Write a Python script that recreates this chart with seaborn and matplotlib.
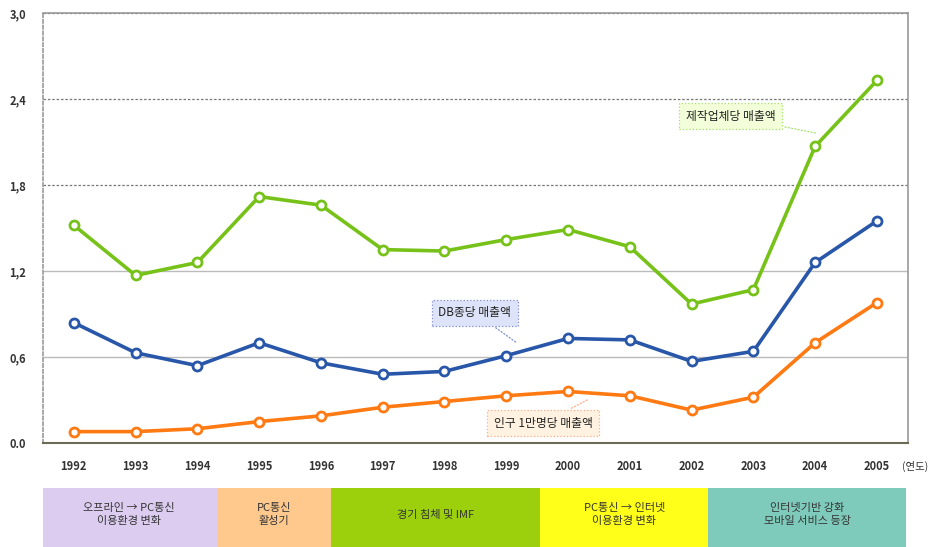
import matplotlib
matplotlib.use("Agg")
import matplotlib.pyplot as plt
import seaborn as sns
import pandas as pd

sns.set_style("white")
plt.rcParams['font.family'] = ['Noto Sans CJK KR', 'DejaVu Sans']

# data
years = ['1992', '1993', '1994', '1995', '1996', '1997', '1998',
         '1999', '2000', '2001', '2002', '2003', '2004', '2005']
per_company = [1.52, 1.17, 1.26, 1.72, 1.66, 1.35, 1.34,
               1.42, 1.49, 1.37, 0.97, 1.07, 2.07, 2.53]
per_db = [0.84, 0.63, 0.54, 0.70, 0.56, 0.48, 0.50,
          0.61, 0.73, 0.72, 0.57, 0.64, 1.26, 1.55]
per_10k_people = [0.08, 0.08, 0.10, 0.15, 0.19, 0.25, 0.29,
                  0.33, 0.36, 0.33, 0.23, 0.32, 0.70, 0.98]
series_names = ['제작업체당 매출액', 'DB종당 매출액', '인구 1만명당 매출액']
series_colors = ['#77c219', '#2856a8', '#ff7a12']

y_ticks = [0.0, 0.6, 1.2, 1.8, 2.4, 3.0]
y_tick_labels = ['0.0', '0,6', '1,2', '1,8', '2,4', '3,0']

# period bands under the chart (edges in year-index units)
band_labels = ['오프라인 → PC통신\n이용환경 변화', 'PC통신\n활성기', '경기 침체 및 IMF',
               'PC통신 → 인터넷\n이용환경 변화', '인터넷기반 강화\n모바일 서비스 등장']
band_edges = [-0.52, 2.31, 4.17, 7.55, 10.27, 13.47]
band_colors = ['#dccdf0', '#ffc98e', '#9ccf0c', '#ffff1a', '#7fcbbb']

idx = list(range(len(years)))
df = pd.DataFrame({'x': idx * 3,
                   'value': per_company + per_db + per_10k_people,
                   'series': [series_names[0]] * 14 + [series_names[1]] * 14 + [series_names[2]] * 14})

fig = plt.figure(figsize=(9.38, 5.47), dpi=100)
ax = fig.add_axes([0.0458, 0.19, 0.922, 0.786])

sns.lineplot(data=df, x='x', y='value', hue='series', palette=series_colors,
             hue_order=series_names, marker='o', markersize=6.5, markerfacecolor='white',
             markeredgewidth=2, linewidth=2.6, legend=False, ax=ax)
for line, c in zip(ax.get_lines(), series_colors):
    line.set_markeredgecolor(c)

ax.set_xlim(-0.5, 13.5)
ax.set_ylim(0, 3.0)
ax.set_xticks(idx)
ax.set_xticklabels(years, fontsize=8, fontweight='bold', color='#333333')
ax.set_xticks([i + 0.5 for i in idx[:-1]], minor=True)
ax.tick_params(axis='x', which='major', length=0, pad=12)
ax.tick_params(axis='x', which='minor', length=3, color='#666666', direction='in')
ax.set_yticks(y_ticks)
ax.set_yticklabels(y_tick_labels, fontsize=8, fontweight='bold', color='#333333')
ax.tick_params(axis='y', length=0, pad=12)
ax.set_xlabel('')
ax.set_ylabel('')

for yv in [1.8, 2.4, 3.0]:
    ax.axhline(yv, color='#777777', lw=0.9, ls=(0, (2, 1.5)), zorder=0)
for yv in [0.6, 1.2]:
    ax.axhline(yv, color='#bbbbbb', lw=1.0, zorder=0)

for s in ['left', 'right', 'top']:
    ax.spines[s].set_color('#999999')
    ax.spines[s].set_linewidth(1.2)
ax.spines['left'].set_linestyle((0, (2, 1.5)))
ax.spines['bottom'].set_color('#6b6b55')
ax.spines['bottom'].set_linewidth(1.5)

ax.text(13.4, -0.165, '(연도)', fontsize=7.5, color='#333333',
        ha='left', va='center', clip_on=False)

# callout labels
callouts = [
    (series_names[0], 10.63, 2.28, 12.05, 2.16, '#f2ffd8', '#a8e070'),
    (series_names[1], 6.49, 0.91, 7.2, 0.69, '#dde3f8', '#7f8fd0'),
    (series_names[2], 7.6, 0.14, 8.35, 0.31, '#fff2e0', '#ffaa88'),
]
for text, tx, ty, px, py, fc, ec in callouts:
    ax.annotate(text, xy=(px, py), xytext=(tx, ty), fontsize=8.5, color='#222222',
                ha='center', va='center',
                bbox=dict(boxstyle='square,pad=0.55', fc=fc, ec=ec, lw=0.9, ls=':'),
                arrowprops=dict(arrowstyle='-', color=ec, lw=0.9, ls=':'))

# band strip
bax = fig.add_axes([0.0458, 0.0, 0.922, 0.108])
bax.set_xlim(-0.5, 13.5)
bax.set_ylim(0, 1)
for i, lab in enumerate(band_labels):
    left, right = band_edges[i], band_edges[i + 1]
    bax.bar(left, 1, width=right - left, align='edge', color=band_colors[i], edgecolor='none')
    bax.text((left + right) / 2, 0.55, lab, ha='center', va='center', fontsize=8,
             color='#333333', linespacing=1.35)
bax.set_axis_off()

fig.savefig('out.png', dpi=100)
